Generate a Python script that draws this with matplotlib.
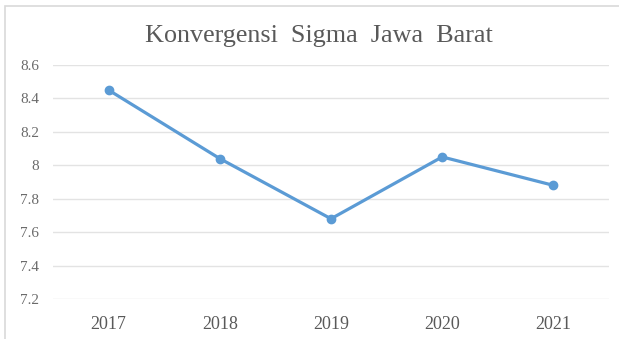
import matplotlib.pyplot as plt
from matplotlib.patches import Rectangle

years = ["2017", "2018", "2019", "2020", "2021"]
sigma = [8.45, 8.04, 7.68, 8.05, 7.88]
yticks = [7.2, 7.4, 7.6, 7.8, 8.0, 8.2, 8.4, 8.6]
ytick_labels = ["7.2", "7.4", "7.6", "7.8", "8", "8.2", "8.4", "8.6"]

plt.rcParams["font.family"] = ["Liberation Serif", "DejaVu Serif"]

fig = plt.figure(figsize=(6.19, 3.39), dpi=100)
W, H = 619, 339

# outer chart border (cut off on right and bottom like the screenshot)
fig.patches.append(Rectangle((5 / W, -0.05), 1.0, (H - 6) / H + 0.05,
                             transform=fig.transFigure, fill=False,
                             edgecolor="#d9d9d9", linewidth=1.2))

ax = fig.add_axes([53 / W, (H - 299) / H, 556 / W, 234 / H])
x = range(len(years))
ax.plot(x, sigma, color="#5b9bd5", linewidth=2.3, marker="o", markersize=6,
        zorder=3)

ax.set_xlim(-0.5, len(years) - 0.5)
ax.set_ylim(7.2, 8.6)
ax.set_yticks(yticks)
ax.set_yticklabels(ytick_labels)
ax.set_xticks(list(x))
ax.set_xticklabels(years)
ax.tick_params(axis="y", length=0, labelsize=11, labelcolor="#6b6b6b", pad=10)
ax.tick_params(axis="x", length=0, labelsize=13, labelcolor="#595959", pad=12)
ax.grid(axis="y", color="#e3e3e3", linewidth=1.0)
ax.set_axisbelow(True)
for s in ax.spines.values():
    s.set_visible(False)

fig.text(319 / W, (H - 36) / H, "Konvergensi  Sigma  Jawa  Barat",
         ha="center", va="center", fontsize=18.8, color="#595959")

fig.savefig("out.png", dpi=100)
